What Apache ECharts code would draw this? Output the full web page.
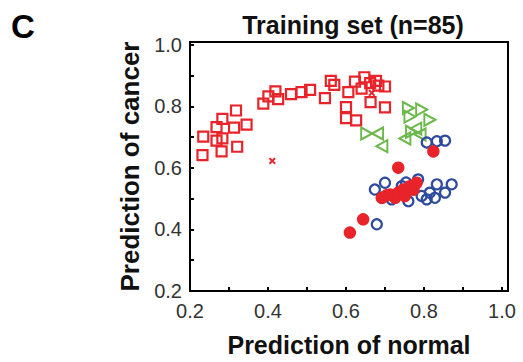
<!DOCTYPE html>
<html>
<head>
<meta charset="utf-8">
<script src="https://cdn.jsdelivr.net/npm/echarts@6/dist/echarts.min.js"></script>
<style>
  html, body { margin: 0; padding: 0; background: #fff; }
  #chart { width: 523px; height: 362px; }
</style>
</head>
<body>
<div id="chart"></div>
<script>
// ---- data (x = prediction of normal, y = prediction of cancer) ----
const panelLabel = 'C';
const chartTitle = 'Training set (n=85)';
const xTitle = 'Prediction of normal';
const yTitle = 'Prediction of cancer';
const tickLabels = ['0.2', '0.4', '0.6', '0.8', '1.0'];

const redSquares = [
  [0.234, 0.702], [0.232, 0.642], [0.268, 0.733], [0.283, 0.760], [0.268, 0.689],
  [0.283, 0.696], [0.281, 0.654], [0.318, 0.787], [0.313, 0.731], [0.345, 0.741],
  [0.321, 0.669], [0.388, 0.809], [0.401, 0.833], [0.419, 0.849], [0.426, 0.824],
  [0.459, 0.840], [0.486, 0.847], [0.508, 0.854], [0.546, 0.827], [0.561, 0.883],
  [0.570, 0.870], [0.606, 0.847], [0.623, 0.881], [0.647, 0.895], [0.640, 0.858],
  [0.662, 0.876], [0.677, 0.883], [0.683, 0.868], [0.700, 0.865], [0.663, 0.814],
  [0.700, 0.797], [0.600, 0.798], [0.600, 0.762], [0.626, 0.755]
];
const redCrosses = [[0.411, 0.623], [0.666, 0.844]];
const greenRight = [
  [0.653, 0.712], [0.760, 0.795], [0.764, 0.767], [0.794, 0.790], [0.815, 0.757], [0.768, 0.718]
];
const greenLeft = [
  [0.681, 0.712], [0.692, 0.671], [0.751, 0.696], [0.790, 0.709], [0.779, 0.728]
];
const blueCircles = [
  [0.807, 0.683], [0.833, 0.687], [0.854, 0.689], [0.674, 0.530], [0.700, 0.552],
  [0.692, 0.503], [0.726, 0.509], [0.743, 0.541], [0.760, 0.492], [0.785, 0.563],
  [0.794, 0.509], [0.815, 0.520], [0.833, 0.547], [0.828, 0.503], [0.854, 0.520],
  [0.871, 0.547], [0.807, 0.498], [0.679, 0.417], [0.717, 0.498], [0.772, 0.530],
  [0.754, 0.553]
];
const redDots = [
  [0.824, 0.654], [0.734, 0.601], [0.644, 0.433], [0.610, 0.390],
  [0.692, 0.503], [0.713, 0.514], [0.734, 0.520], [0.747, 0.530], [0.764, 0.541],
  [0.781, 0.552], [0.751, 0.509], [0.726, 0.503], [0.773, 0.530], [0.704, 0.511]
];

// ---- chart ----
const FONT = '"Liberation Sans", Arial, sans-serif';
const RED = '#e8232a', GREEN = '#6cb84c', BLUE = '#2d4a9e';

function fmt(v) {
  const t = v * 10;
  if (Math.abs(t - Math.round(t)) > 1e-6) return '';
  const s = v.toFixed(1);
  return tickLabels.indexOf(s) >= 0 ? s : '';
}

const chart = echarts.init(document.getElementById('chart'), null, { renderer: 'svg' });
chart.setOption({
  animation: false,
  backgroundColor: '#fff',
  grid: {
    left: 190, right: 15, top: 42, bottom: 70,
    show: true, borderColor: '#000', borderWidth: 2, backgroundColor: 'transparent'
  },
  xAxis: {
    type: 'value', min: 0.2, max: 1.0154, interval: 0.1,
    name: xTitle, nameLocation: 'middle', nameGap: 41,
    nameTextStyle: { fontFamily: FONT, fontSize: 25, fontWeight: 'bold', color: '#111' },
    axisLine: { show: true, onZero: false, lineStyle: { color: '#000', width: 2 } },
    axisTick: { show: true, inside: true, length: 4, lineStyle: { color: '#000', width: 2 } },
    axisLabel: { formatter: fmt, fontFamily: FONT, fontSize: 20, color: '#333', margin: 10,
                 showMaxLabel: true, showMinLabel: true, hideOverlap: false },
    splitLine: { show: false }
  },
  yAxis: {
    type: 'value', min: 0.2, max: 1.0097, interval: 0.1,
    name: yTitle, nameLocation: 'middle', nameGap: 46,
    nameTextStyle: { fontFamily: FONT, fontSize: 26, fontWeight: 'bold', color: '#111' },
    axisLine: { show: true, onZero: false, lineStyle: { color: '#000', width: 2 } },
    axisTick: { show: true, inside: true, length: 4, lineStyle: { color: '#000', width: 2 } },
    axisLabel: { formatter: fmt, fontFamily: FONT, fontSize: 20, color: '#333', margin: 8,
                 padding: [0, 0, 8, 0], hideOverlap: false },
    splitLine: { show: false }
  },
  graphic: [
    { type: 'text', left: 11, top: 10,
      style: { text: panelLabel, font: 'bold 33px ' + FONT, fill: '#000' } },
    { type: 'text', x: 353, y: 25,
      style: { text: chartTitle, font: 'bold 25px ' + FONT, fill: '#111',
               align: 'center', verticalAlign: 'middle' } }
  ],
  series: [
    { type: 'scatter', data: redSquares, symbol: 'rect', symbolSize: 10,
      itemStyle: { color: 'transparent', borderColor: RED, borderWidth: 2.2, opacity: 1 } },
    { type: 'scatter', data: redCrosses,
      symbol: 'path://M0,2L2,0L5,3L8,0L10,2L7,5L10,8L8,10L5,7L2,10L0,8L3,5Z', symbolSize: 7,
      itemStyle: { color: RED, opacity: 1 } },
    { type: 'scatter', data: greenRight, symbol: 'triangle', symbolSize: [12, 11], symbolRotate: -90,
      itemStyle: { color: 'transparent', borderColor: GREEN, borderWidth: 2, opacity: 1 } },
    { type: 'scatter', data: greenLeft, symbol: 'triangle', symbolSize: [12, 11], symbolRotate: 90,
      itemStyle: { color: 'transparent', borderColor: GREEN, borderWidth: 2, opacity: 1 } },
    { type: 'scatter', data: blueCircles, symbol: 'circle', symbolSize: 10,
      itemStyle: { color: 'transparent', borderColor: BLUE, borderWidth: 2.2, opacity: 1 } },
    { type: 'scatter', data: redDots, symbol: 'circle', symbolSize: 12.5,
      itemStyle: { color: RED, opacity: 1 } }
  ]
});
</script>
</body>
</html>
